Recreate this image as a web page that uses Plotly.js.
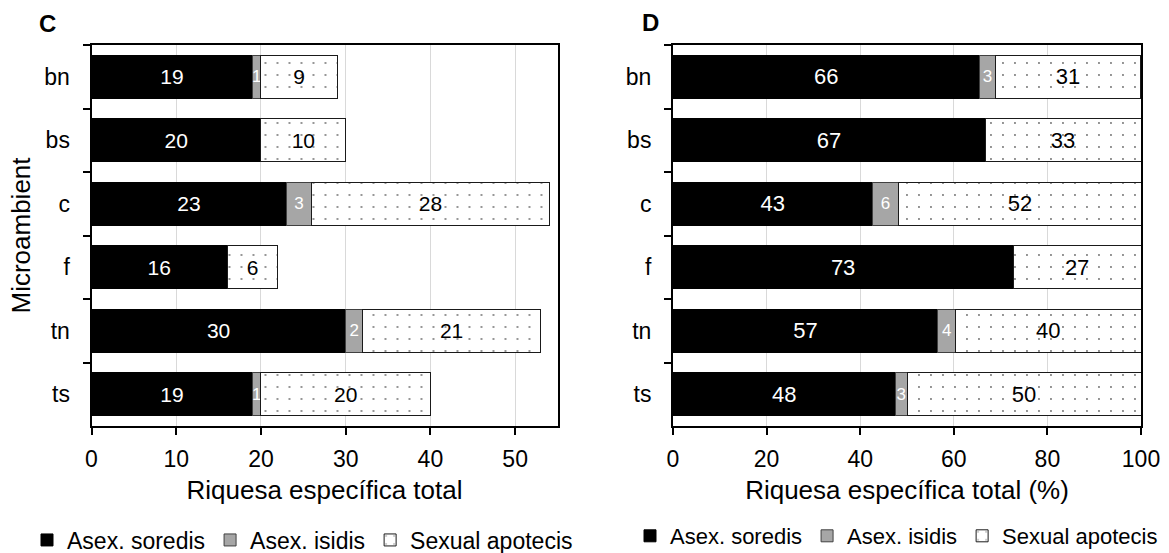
<!DOCTYPE html>
<html>
<head>
<meta charset="utf-8">
<script src="https://cdn.plot.ly/plotly-3.0.1.min.js"></script>
<style>html,body{margin:0;padding:0;background:#fff}#chart{width:1169px;height:553px}</style>
</head>
<body>
<div id="chart"></div>
<script>
// Categories (microambients)
const categories = ['bn', 'bs', 'c', 'f', 'tn', 'ts'];
// Panel C: total specific richness (counts)
const cSoredis = [19, 20, 23, 16, 30, 19];
const cIsidis = [1, 0, 3, 0, 2, 1];
const cApotecis = [9, 10, 28, 6, 21, 20];
// Panel D: total specific richness (%)
const dSoredis = [65.5, 66.7, 42.6, 72.7, 56.6, 47.5];
const dIsidis = [3.4, 0, 5.6, 0, 3.8, 2.5];
const dApotecis = [31.0, 33.3, 51.9, 27.3, 39.6, 50.0];
const seriesNames = ['Asex. soredis', 'Asex. isidis', 'Sexual apotecis'];

const FONT = 'Liberation Sans, Arial, sans-serif';
const GRAY = '#a6a6a6';
const labels = arr => arr.map(v => v > 0 ? Math.round(v).toString() : '');

function mk(vals, idx, xa, ya, legend, big) {
  const base = {
    type: 'bar', orientation: 'h', y: categories, x: vals,
    name: seriesNames[idx], xaxis: xa, yaxis: ya, legend: legend,
    text: labels(vals), texttemplate: '%{text}', textposition: 'inside',
    insidetextanchor: 'middle', constraintext: 'none', hoverinfo: 'x+y+name',
    showlegend: true
  };
  if (idx === 0) {
    base.marker = {color: '#000000', line: {color: '#000000', width: 1}};
    base.textfont = {color: '#ffffff', size: big, family: FONT};
  } else if (idx === 1) {
    base.marker = {color: GRAY, line: {color: '#404040', width: 1}};
    base.textfont = {color: '#ffffff', size: 17, family: FONT};
  } else {
    base.marker = {color: '#ffffff', line: {color: '#1a1a1a', width: 1},
      pattern: {shape: '.', fgcolor: '#6e6e6e', bgcolor: '#ffffff', size: 12, solidity: 0.02}};
    base.textfont = {color: '#000000', size: big, family: FONT};
  }
  return base;
}

const data = [
  mk(cSoredis, 0, 'x', 'y', 'legend', 21),
  mk(cIsidis, 1, 'x', 'y', 'legend', 21),
  mk(cApotecis, 2, 'x', 'y', 'legend', 21),
  mk(dSoredis, 0, 'x2', 'y2', 'legend2', 22),
  mk(dIsidis, 1, 'x2', 'y2', 'legend2', 22),
  mk(dApotecis, 2, 'x2', 'y2', 'legend2', 22)
];

const W = 1169, H = 553;
const xd1 = [91.5 / W, 557.5 / W];
const xd2 = [673 / W, 1141 / W];
const yd = [(H - 426) / H, (H - 45) / H];

const xBase = {
  showline: true, linecolor: '#000', linewidth: 2, mirror: true,
  ticks: 'outside', ticklen: 7, tickwidth: 2, tickcolor: '#000',
  showgrid: true, gridcolor: '#d9d9d9', gridwidth: 1, zeroline: false,
  ticklabelstandoff: 4,
  tickfont: {family: FONT, size: 23, color: '#000'}, fixedrange: true
};
const yBase = {
  type: 'category', autorange: 'reversed', showline: true, linecolor: '#000', linewidth: 2,
  mirror: true, ticks: 'outside', tickson: 'boundaries', ticklen: 7, tickwidth: 2,
  tickcolor: '#000', showgrid: false, ticklabelstandoff: 15,
  tickfont: {family: FONT, size: 23, color: '#000'}, fixedrange: true
};

const layout = {
  width: W, height: H,
  margin: {l: 0, r: 0, t: 0, b: 0, autoexpand: false},
  paper_bgcolor: '#fff', plot_bgcolor: '#fff',
  barmode: 'stack', bargap: 0.32,
  font: {family: FONT, color: '#000'},
  xaxis: Object.assign({}, xBase, {domain: xd1, anchor: 'y', range: [0, 55], dtick: 10,
    title: {text: 'Riquesa específica total', font: {family: FONT, size: 26}, standoff: 10}}),
  yaxis: Object.assign({}, yBase, {domain: yd, anchor: 'x',
    title: {text: 'Microambient', font: {family: FONT, size: 26}, standoff: 6}}),
  xaxis2: Object.assign({}, xBase, {domain: xd2, anchor: 'y2', range: [0, 100], dtick: 20,
    title: {text: 'Riquesa específica total (%)', font: {family: FONT, size: 26}, standoff: 10}}),
  yaxis2: Object.assign({}, yBase, {domain: yd, anchor: 'x2'}),
  legend: {orientation: 'h', x: 27 / W, xanchor: 'left', y: (H - 540) / H, yanchor: 'middle',
    font: {family: FONT, size: 23}, itemwidth: 30, traceorder: 'normal', bgcolor: 'rgba(0,0,0,0)'},
  legend2: {orientation: 'h', x: 630 / W, xanchor: 'left', y: (H - 536) / H, yanchor: 'middle',
    font: {family: FONT, size: 22}, itemwidth: 30, traceorder: 'normal', bgcolor: 'rgba(0,0,0,0)'},
  annotations: [
    {text: '<b>C</b>', xref: 'paper', yref: 'paper', x: 37 / W, y: (H - 24) / H, xanchor: 'left', yanchor: 'middle',
      showarrow: false, font: {family: FONT, size: 24, color: '#000'}},
    {text: '<b>D</b>', xref: 'paper', yref: 'paper', x: 640 / W, y: (H - 23) / H, xanchor: 'left', yanchor: 'middle',
      showarrow: false, font: {family: FONT, size: 24, color: '#000'}}
  ]
};

Plotly.newPlot('chart', data, layout, {displayModeBar: false, staticPlot: true});
</script>
</body>
</html>
